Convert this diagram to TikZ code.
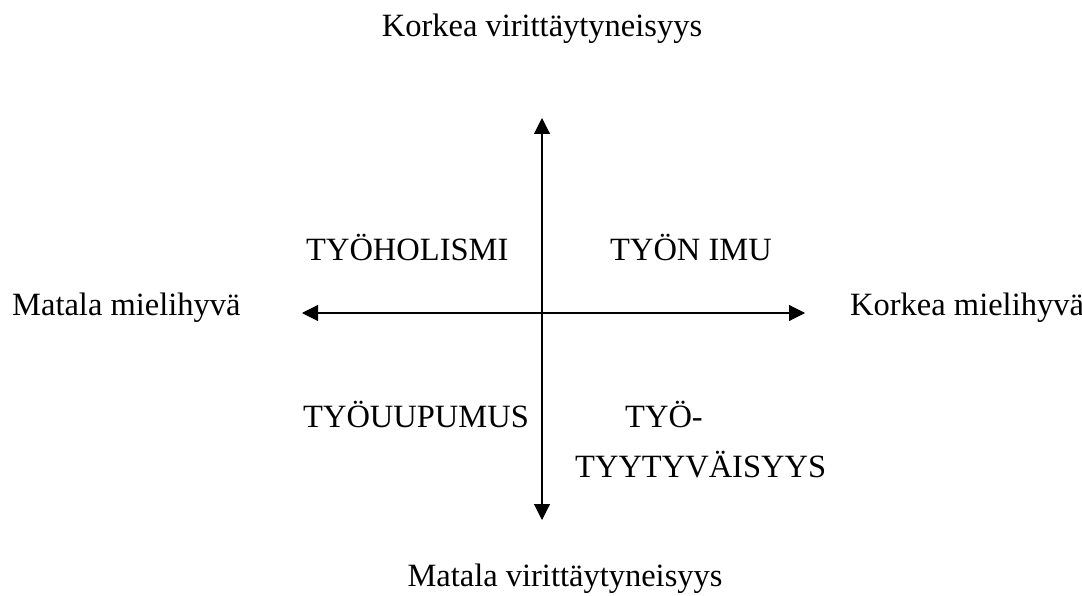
\documentclass[tikz,border=0pt]{standalone}
\usepackage{fontspec}
\setmainfont{Liberation Serif}
\usetikzlibrary{arrows.meta}
\begin{document}
\begin{tikzpicture}[x=1pt,y=-1pt,
  lbl/.style={inner sep=0pt,anchor=base west,font=\fontsize{32.5}{39}\selectfont},
  axis/.style={line width=1.1pt,{Triangle[length=16pt,width=16pt]}-{Triangle[length=16pt,width=16pt]}}]
\useasboundingbox (0,0) rectangle (1082,596);

% axis end points
\coordinate (top) at (542,118);
\coordinate (bottom) at (542,520);
\coordinate (left) at (302,313);
\coordinate (right) at (805,313);

\draw[axis] (bottom) -- (top);
\draw[axis] (left) -- (right);

% axis labels
\node[lbl,anchor=base] (hiar) at (542,37) {Korkea virittäytyneisyys};
\node[lbl,anchor=base] (loar) at (565,586) {Matala virittäytyneisyys};
\node[lbl] (lopl) at (12,316) {Matala mielihyvä};
\node[lbl] (hipl) at (850,316) {Korkea mielihyvä};

% quadrant labels
\node[lbl] (q2) at (306,261) {TYÖHOLISMI};
\node[lbl] (q1) at (610,261) {TYÖN IMU};
\node[lbl] (q3) at (303,427) {TYÖUUPUMUS};
\node[lbl] (q4a) at (625,427) {TYÖ-};
\node[lbl] (q4b) at (575,477) {TYYTYVÄISYYS};
\end{tikzpicture}
\end{document}
